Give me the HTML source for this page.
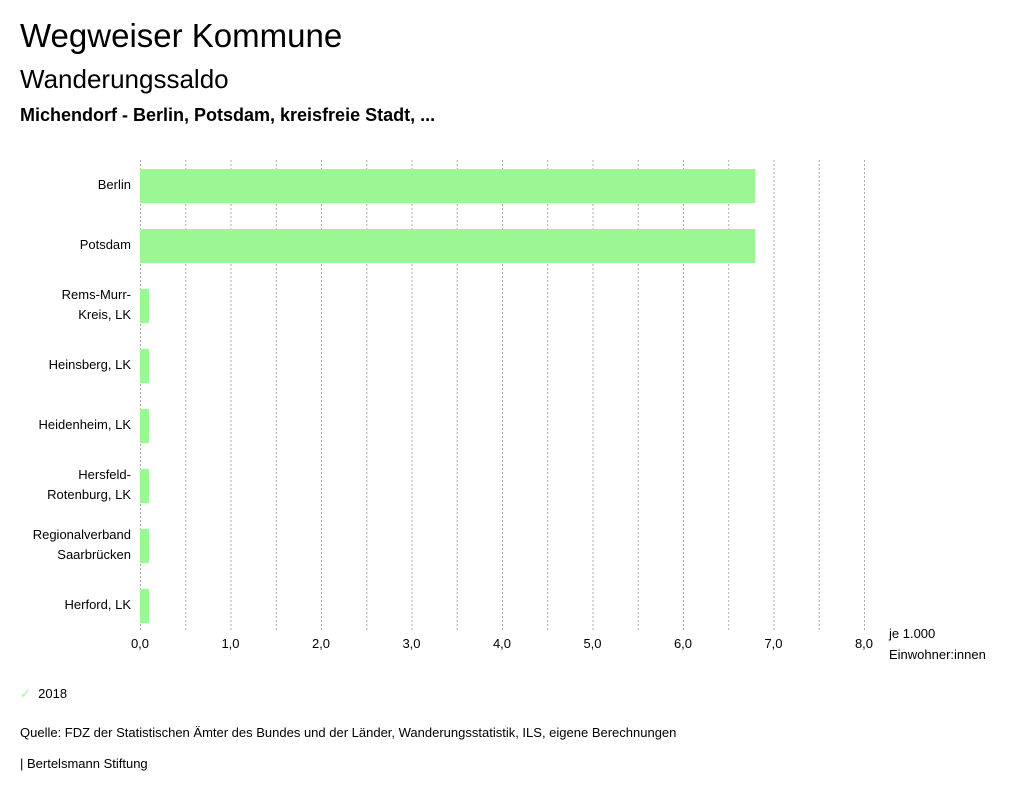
<!DOCTYPE html>
<html><head><meta charset="utf-8"><style>
body{margin:0;width:1024px;height:797px;background:#fff;font-family:"Liberation Sans Narrow","Liberation Sans",sans-serif;color:#000;position:relative;overflow:hidden}
.t{position:absolute;white-space:nowrap;font-family:"Liberation Sans",sans-serif}
.s{position:absolute;white-space:nowrap;font-size:13px}
</style></head><body>
<div class="t" style="left:20px;top:17px;font-size:33px">Wegweiser Kommune</div>
<div class="t" style="left:20px;top:64px;font-size:26px">Wanderungssaldo</div>
<div class="t" style="left:20px;top:105px;font-size:18px;font-weight:bold">Michendorf - Berlin, Potsdam, kreisfreie Stadt, ...</div>
<svg id="chart" width="1024" height="680" style="position:absolute;left:0;top:0"></svg>
<div class="s" style="left:20px;top:686px"><span style="color:#9af794">✓</span>&nbsp;&nbsp;2018</div>
<div class="s" style="left:20px;top:725px">Quelle: FDZ der Statistischen Ämter des Bundes und der Länder, Wanderungsstatistik, ILS, eigene Berechnungen</div>
<div class="s" style="left:20px;top:756px">| Bertelsmann Stiftung</div>
<script>
const categories=[["Berlin"],["Potsdam"],["Rems-Murr-","Kreis, LK"],["Heinsberg, LK"],["Heidenheim, LK"],["Hersfeld-","Rotenburg, LK"],["Regionalverband","Saarbrücken"],["Herford, LK"]];
const values=[6.8,6.8,0.1,0.1,0.1,0.1,0.1,0.1];
const tickValues=[0,1,2,3,4,5,6,7,8];
const tickLabels=["0,0","1,0","2,0","3,0","4,0","5,0","6,0","7,0","8,0"];
const svg=document.getElementById('chart');const NS='http://www.w3.org/2000/svg';
const x=v=>140+v*90.5;const yTop=i=>169+i*60;
function mk(t,a){const e=document.createElementNS(NS,t);for(const k in a)e.setAttribute(k,a[k]);svg.appendChild(e);return e;}
for(let g=0;g<=16;g++){const v=g*0.5;const l=mk('line',{x1:x(v)+0.5,x2:x(v)+0.5,y1:160,y2:632,stroke:'#aaa','stroke-width':1,'stroke-dasharray':'2,2'});

}
tickValues.forEach((v,i)=>{const t=mk('text',{x:x(v),y:648,'text-anchor':'middle','font-size':13});t.textContent=tickLabels[i];

});
categories.forEach((c,i)=>{const r=mk('rect',{x:x(0),y:yTop(i),width:x(values[i])-x(0),height:34,fill:'#9af794'});


const cy=yTop(i)+15;c.forEach((ln,j)=>{const t=mk('text',{x:131,y:cy+5+(j-(c.length-1)/2)*20,'text-anchor':'end','font-size':13});t.textContent=ln;

});});
[["je 1.000",638],["Einwohner:innen",659]].forEach(([s,yy])=>{const t=mk('text',{x:889,y:yy,'font-size':13});t.textContent=s;

});
</script>
</body></html>
